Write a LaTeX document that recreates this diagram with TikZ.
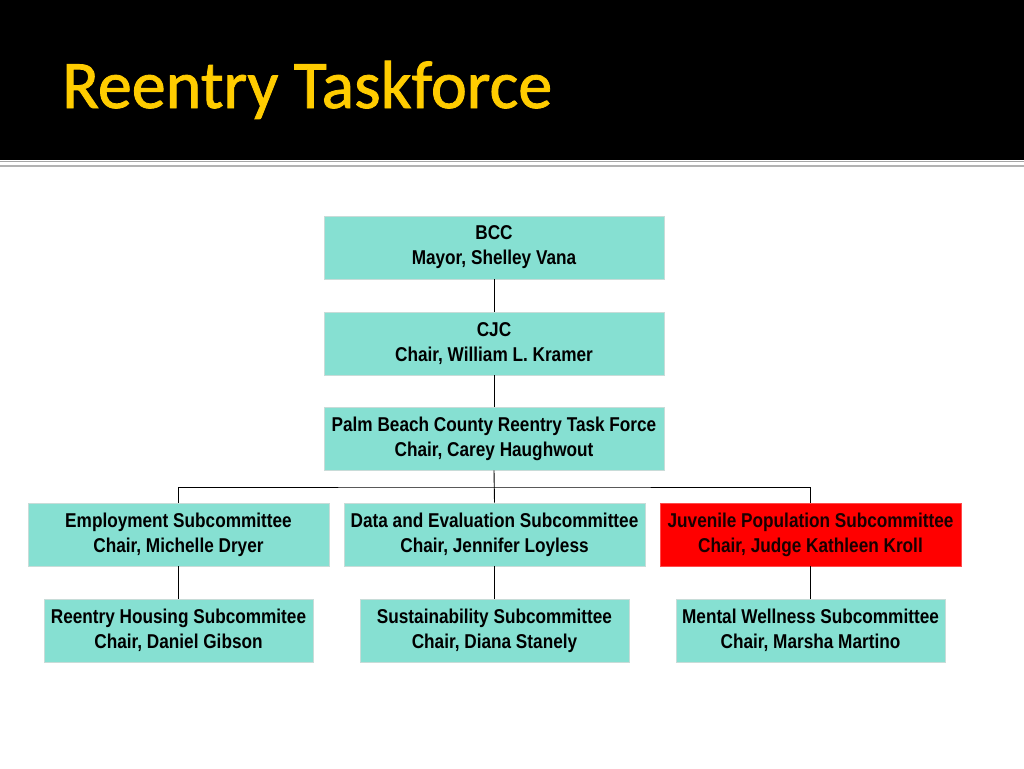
\documentclass[tikz,border=0pt]{standalone}
\usepackage{fontspec}
\setmainfont{Liberation Sans}[FakeStretch=0.86]
\newfontfamily\titlefont{Carlito}[FakeBold=1.2]
\definecolor{turq}{HTML}{86E0D2}
\definecolor{boxline}{HTML}{C8DCD8}
\definecolor{titlegold}{HTML}{FFCC00}
\tikzset{
  orgbox/.style={draw=boxline, line width=0.8pt, fill=turq, minimum width=#1, minimum height=63pt,
    inner sep=0pt, align=center, font=\fontsize{20}{25}\selectfont\bfseries, text=black},
  redbox/.style={orgbox=#1, fill=red, draw=red!70!white, text=black!90!red},
  conn/.style={draw=black, line width=0.9pt}
}
\begin{document}
\begin{tikzpicture}[x=1pt,y=-1pt]
\useasboundingbox (0,0) rectangle (1024,768);
\fill[white] (0,0) rectangle (1024,768);
\fill[black] (0,0) rectangle (1024,160);
\draw[gray!70, line width=1pt] (0,161) -- (1024,161);
\draw[gray!60, line width=2pt] (0,166) -- (1024,166);
\node[anchor=base west, inner sep=0pt, text=titlegold, font=\titlefont\fontsize{68}{70}\selectfont] (title) at (62,108) {Reentry Taskforce};

\node[orgbox=340pt] (bcc) at (494,247.5) {BCC\\Mayor, Shelley Vana};
\node[orgbox=340pt] (cjc) at (494,343.5) {CJC\\Chair, William L. Kramer};
\node[orgbox=340pt] (pbc) at (494,438.5) {Palm Beach County Reentry Task Force\\Chair, Carey Haughwout};

\node[orgbox=301pt] (emp) at (178.5,534.5) {Employment Subcommittee\\Chair, Michelle Dryer};
\node[orgbox=301pt] (data) at (494.5,534.5) {Data and Evaluation Subcommittee\\Chair, Jennifer Loyless};
\node[redbox=301pt] (juv) at (810.5,534.5) {Juvenile Population Subcommittee\\Chair, Judge Kathleen Kroll};

\node[orgbox=269pt] (hous) at (178.5,630.5) {Reentry Housing Subcommitee\\Chair, Daniel Gibson};
\node[orgbox=269pt] (sust) at (494.5,630.5) {Sustainability Subcommittee\\Chair, Diana Stanely};
\node[orgbox=269pt] (ment) at (810.5,630.5) {Mental Wellness Subcommittee\\Chair, Marsha Martino};

\coordinate (bus) at (494.5,487);
\draw[conn] (bcc.south) -- (cjc.north);
\draw[conn] (cjc.south) -- (pbc.north);
\draw[conn] (pbc.south) -- (data.north);
\draw[conn] (emp.north) |- (bus) -| (juv.north);
\draw[conn] (emp.south) -- (hous.north);
\draw[conn] (data.south) -- (sust.north);
\draw[conn] (juv.south) -- (ment.north);
\end{tikzpicture}
\end{document}
